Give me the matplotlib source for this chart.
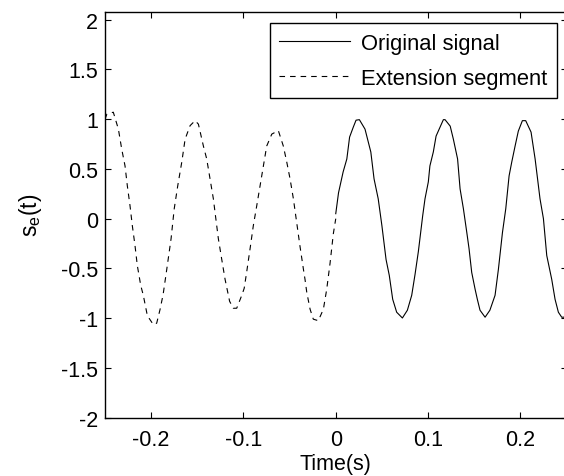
import matplotlib
matplotlib.use("Agg")
import matplotlib.pyplot as plt

# --- Data ---
# Original signal (solid), t >= 0
t_orig = [0.000, 0.003, 0.008, 0.012, 0.015, 0.019, 0.022, 0.0256, 0.0317, 0.038,
          0.0415, 0.046, 0.050, 0.0545, 0.058, 0.0617, 0.066, 0.0722, 0.0776, 0.0823,
          0.0859, 0.0895, 0.0942, 0.0967, 0.1003, 0.102, 0.1057, 0.1087, 0.113, 0.1166,
          0.1184, 0.124, 0.1274, 0.132, 0.1347, 0.1383, 0.142, 0.1444, 0.1473, 0.151,
          0.1534, 0.1563, 0.1618, 0.167, 0.1726, 0.1762, 0.1806, 0.1842, 0.1878, 0.1907,
          0.1943, 0.1978, 0.2022, 0.2058, 0.2116, 0.216, 0.2213, 0.225, 0.2286, 0.234,
          0.2376, 0.2412, 0.2448, 0.2473, 0.250]
s_orig = [0.05, 0.26, 0.47, 0.60, 0.82, 0.92, 0.99, 0.995, 0.90, 0.67,
          0.40, 0.20, -0.07, -0.41, -0.57, -0.81, -0.94, -0.998, -0.92, -0.77,
          -0.56, -0.33, 0.03, 0.20, 0.37, 0.53, 0.67, 0.83, 0.92, 0.995,
          0.995, 0.93, 0.80, 0.60, 0.30, 0.10, -0.14, -0.30, -0.54, -0.71,
          -0.81, -0.92, -0.99, -0.92, -0.77, -0.51, -0.14, 0.10, 0.43, 0.57,
          0.73, 0.88, 0.985, 0.985, 0.87, 0.60, 0.20, 0.00, -0.37, -0.61,
          -0.81, -0.94, -0.99, -0.99, -0.96]

# Extension segment (dashed), t < 0
t_ext = [-0.250, -0.248, -0.241, -0.2355, -0.2319, -0.2283, -0.2258, -0.2229, -0.2204, -0.2175,
         -0.215, -0.2113, -0.2085, -0.2041, -0.1976, -0.194, -0.1903, -0.187, -0.1831, -0.1784,
         -0.175, -0.1712, -0.1668, -0.1632, -0.1578, -0.1524, -0.1488, -0.1434, -0.1398, -0.1362,
         -0.1326, -0.1308, -0.1272, -0.1235, -0.1199, -0.117, -0.115, -0.111, -0.1073, -0.1018,
         -0.0992, -0.0964, -0.0928, -0.0893, -0.0856, -0.082, -0.0784, -0.0748, -0.0693, -0.0622,
         -0.0568, -0.0531, -0.0495, -0.0459, -0.0423, -0.0387, -0.035, -0.0333, -0.0314, -0.0278,
         -0.0243, -0.0189, -0.0134, -0.0098, -0.0062, -0.0026, 0.000]
s_ext = [1.00, 1.05, 1.07, 0.90, 0.70, 0.53, 0.33, 0.13, -0.07, -0.27,
         -0.47, -0.67, -0.77, -0.975, -1.065, -1.05, -0.91, -0.76, -0.51, -0.20,
         0.10, 0.33, 0.57, 0.80, 0.935, 0.985, 0.95, 0.73, 0.60, 0.40,
         0.20, 0.065, -0.20, -0.41, -0.61, -0.74, -0.83, -0.90, -0.90, -0.77,
         -0.70, -0.53, -0.30, -0.07, 0.13, 0.33, 0.53, 0.73, 0.85, 0.885,
         0.73, 0.57, 0.40, 0.20, -0.04, -0.28, -0.51, -0.61, -0.74, -0.91,
         -1.01, -1.025, -0.91, -0.71, -0.45, -0.15, 0.00]

x_ticks = [-0.2, -0.1, 0, 0.1, 0.2]
x_ticklabels = ["-0.2", "-0.1", "0", "0.1", "0.2"]
y_ticks = [-2, -1.5, -1, -0.5, 0, 0.5, 1, 1.5, 2]
y_ticklabels = ["-2", "-1.5", "-1", "-0.5", "0", "0.5", "1", "1.5", "2"]

# --- Style (MATLAB-like look) ---
plt.rcParams["font.family"] = ["Liberation Sans", "DejaVu Sans"]
plt.rcParams["mathtext.fontset"] = "custom"
plt.rcParams["mathtext.rm"] = "Liberation Sans"
plt.rcParams["mathtext.it"] = "Liberation Sans:italic"
FS = 15.5
LEG_FS = 15.8

fig = plt.figure(figsize=(5.64, 4.77), dpi=100)
ax = fig.add_axes([105 / 564, 1 - 418.7 / 477, 461.5 / 564, 406 / 477])

ax.plot(t_orig, s_orig, color="black", linewidth=0.8, label="Original signal")
ax.plot(t_ext, s_ext, color="black", linewidth=0.8, linestyle=(0, (5, 4.5)),
        label="Extension segment")

ax.set_xlim(-0.25, 0.25)
ax.set_ylim(-2, 2.08)
ax.set_xticks(x_ticks)
ax.set_xticklabels(x_ticklabels)
ax.set_yticks(y_ticks)
ax.set_yticklabels(y_ticklabels)
ax.tick_params(direction="in", length=4, width=0.8, labelsize=FS,
               top=True, right=True)
ax.tick_params(axis="x", pad=8)
ax.tick_params(axis="y", pad=5)
for sp in ax.spines.values():
    sp.set_linewidth(1.0)

ax.set_xlabel("Time(s)", fontsize=FS, labelpad=2.5)
ax.set_ylabel(r"$\mathregular{s_e(t)}$", fontsize=FS + 1, labelpad=12)

leg = ax.legend(loc="upper right", bbox_to_anchor=(556.7 / 564, 1 - 24.3 / 477),
                bbox_transform=fig.transFigure, borderaxespad=0, fontsize=LEG_FS,
                handlelength=3.25, handletextpad=0.5, labelspacing=0.65,
                borderpad=0.42, fancybox=False, framealpha=1)
leg.get_frame().set_edgecolor("black")
leg.get_frame().set_linewidth(1.0)

fig.savefig("out.png", dpi=100)
